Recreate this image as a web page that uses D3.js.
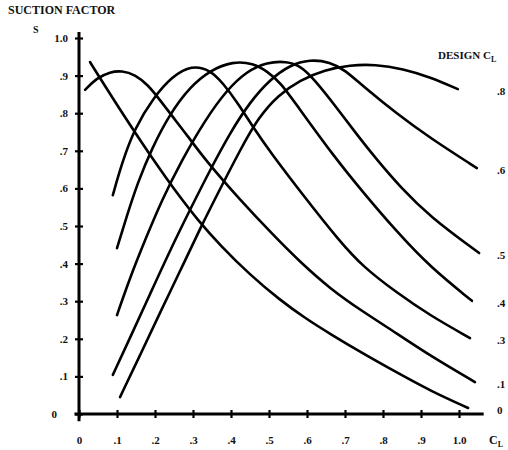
<!DOCTYPE html>
<html><head><meta charset="utf-8">
<script src="https://cdn.jsdelivr.net/npm/d3@7"></script>
<style>
body{margin:0;background:#fff}
text{font-family:"Liberation Serif","Times New Roman",serif;font-weight:bold;fill:#111}
</style>
</head><body>
<svg id="c" width="508" height="450"></svg>
<script>
// ---- data (CL, suction factor S) ----
const designLabels = ["0", ".1", ".3", ".4", ".5", ".6", ".8"];
const curveD00 = [[0.029,0.936],[0.055,0.894],[0.095,0.830],[0.147,0.749],[0.187,0.689],[0.232,0.624],[0.271,0.570],[0.311,0.518],[0.371,0.449],[0.450,0.370],[0.529,0.303],[0.595,0.255],[0.661,0.213],[0.747,0.161],[0.837,0.110],[0.924,0.062],[1.024,0.016]];
const curveD01 = [[0.016,0.862],[0.047,0.894],[0.082,0.910],[0.113,0.913],[0.147,0.903],[0.182,0.875],[0.213,0.835],[0.247,0.790],[0.284,0.742],[0.332,0.676],[0.424,0.569],[0.511,0.476],[0.582,0.404],[0.661,0.333],[0.747,0.272],[0.837,0.214],[0.924,0.155],[1.042,0.085]];
const curveD03 = [[0.089,0.582],[0.113,0.668],[0.147,0.761],[0.195,0.840],[0.245,0.898],[0.297,0.928],[0.345,0.915],[0.379,0.880],[0.418,0.827],[0.458,0.763],[0.503,0.697],[0.595,0.575],[0.687,0.458],[0.747,0.392],[0.837,0.322],[0.924,0.262],[1.029,0.202]];
const curveD04 = [[0.100,0.441],[0.124,0.521],[0.155,0.617],[0.192,0.707],[0.239,0.798],[0.292,0.870],[0.345,0.914],[0.405,0.938],[0.458,0.933],[0.497,0.910],[0.529,0.883],[0.582,0.809],[0.668,0.689],[0.747,0.590],[0.837,0.484],[0.924,0.391],[1.034,0.301]];
const curveD05 = [[0.100,0.263],[0.134,0.362],[0.174,0.463],[0.218,0.569],[0.271,0.676],[0.332,0.782],[0.389,0.862],[0.442,0.912],[0.495,0.936],[0.547,0.938],[0.582,0.926],[0.616,0.894],[0.679,0.814],[0.732,0.742],[0.784,0.676],[0.845,0.604],[0.924,0.524],[1.053,0.428]];
const curveD06 = [[0.089,0.104],[0.134,0.202],[0.187,0.319],[0.239,0.434],[0.292,0.543],[0.345,0.649],[0.397,0.747],[0.450,0.830],[0.503,0.890],[0.555,0.928],[0.608,0.943],[0.661,0.936],[0.700,0.915],[0.747,0.872],[0.837,0.798],[0.924,0.734],[1.047,0.654]];
const curveD08 = [[0.108,0.045],[0.161,0.157],[0.213,0.269],[0.266,0.380],[0.318,0.492],[0.371,0.598],[0.424,0.702],[0.471,0.787],[0.524,0.848],[0.582,0.888],[0.647,0.915],[0.713,0.928],[0.779,0.930],[0.853,0.918],[0.924,0.896],[0.997,0.864]];
const curves = [curveD00, curveD01, curveD03, curveD04, curveD05, curveD06, curveD08];

const xTickValues = [0, 0.1, 0.2, 0.3, 0.4, 0.5, 0.6, 0.7, 0.8, 0.9, 1.0];
const xTickLabels = ["0", ".1", ".2", ".3", ".4", ".5", ".6", ".7", ".8", ".9", "1.0"];
const yTickValues = [0, 0.1, 0.2, 0.3, 0.4, 0.5, 0.6, 0.7, 0.8, 0.9, 1.0];
const yTickLabels = ["0", ".1", ".2", ".3", ".4", ".5", ".6", ".7", ".8", ".9", "1.0"];

// ---- layout ----
const svg = d3.select("#c");
const x = d3.scaleLinear().domain([0, 1]).range([79, 459]);
const y = d3.scaleLinear().domain([0, 1]).range([414, 38]);

// axes lines (extended)
svg.append("line").attr("x1", x(-0.012)).attr("x2", x(1.065)).attr("y1", y(0)).attr("y2", y(0))
  .attr("stroke", "#000").attr("stroke-width", 3);
svg.append("line").attr("x1", x(0)).attr("x2", x(0)).attr("y1", y(1.016)).attr("y2", y(-0.019))
  .attr("stroke", "#000").attr("stroke-width", 3);

// y axis ticks + labels
const yAxis = d3.axisLeft(y).tickValues(yTickValues)
  .tickFormat((d, i) => yTickLabels[i]).tickSize(4).tickPadding(8);
const gy = svg.append("g").attr("transform", `translate(${x(0)},0)`).call(yAxis);
gy.select(".domain").remove();
gy.selectAll(".tick line").attr("x1", -4).attr("x2", 4).attr("stroke", "#000").attr("stroke-width", 2.2);
gy.selectAll(".tick text").attr("font-size", 11).attr("font-family", null).attr("fill", null)
  .attr("x", d => d === 0 ? -22 : -11);

// x axis ticks + labels
const xAxis = d3.axisBottom(x).tickValues(xTickValues)
  .tickFormat((d, i) => xTickLabels[i]).tickSize(4);
const gx = svg.append("g").attr("transform", `translate(0,${y(0)})`).call(xAxis);
gx.select(".domain").remove();
gx.selectAll(".tick line").attr("y1", -4).attr("y2", 4).attr("stroke", "#000").attr("stroke-width", 2.2);
gx.selectAll(".tick text").attr("font-size", 11).attr("font-family", null).attr("fill", null)
  .attr("y", 22);

// curves
const line = d3.line().x(d => x(d[0])).y(d => y(d[1])).curve(d3.curveBasis);
svg.append("g").selectAll("path").data(curves).join("path")
  .attr("d", line).attr("fill", "none").attr("stroke", "#000")
  .attr("stroke-width", 2.6).attr("stroke-linecap", "round");

// right-hand design CL labels
svg.append("g").selectAll("text").data(curves).join("text")
  .attr("x", 497).attr("y", d => y(d[d.length - 1][1]) + 2)
  .attr("dy", "0.35em").attr("font-size", 11)
  .text((d, i) => designLabels[i]);

// titles
svg.append("text").attr("x", 8).attr("y", 14).attr("font-size", 12).text("SUCTION FACTOR");
svg.append("text").attr("x", 33).attr("y", 33).attr("font-size", 10).text("S");
const dt = svg.append("text").attr("x", 438).attr("y", 59).attr("font-size", 11);
dt.append("tspan").text("DESIGN C");
dt.append("tspan").attr("font-size", 8).attr("dy", 3).text("L");
const xt = svg.append("text").attr("x", 489).attr("y", 444).attr("font-size", 12);
xt.append("tspan").text("C");
xt.append("tspan").attr("font-size", 8).attr("dy", 3).text("L");
</script>
</body></html>
